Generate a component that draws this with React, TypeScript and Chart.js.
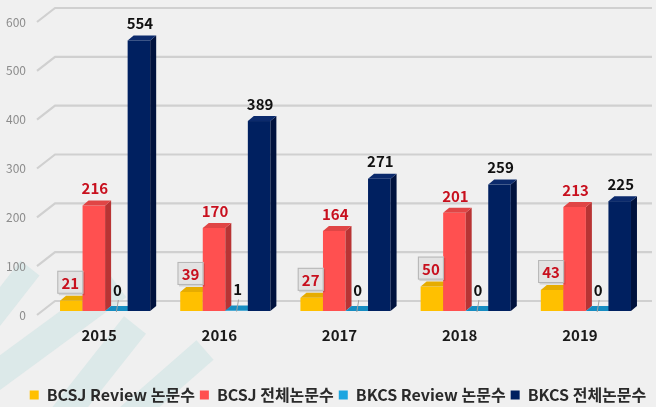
import React, { useEffect, useRef } from "react";
import { Chart, registerables } from "chart.js";

Chart.register(...registerables);

const years = ["2015", "2016", "2017", "2018", "2019"];
const bcsjReview = [21, 39, 27, 50, 43];
const bcsjTotal = [216, 170, 164, 201, 213];
const bkcsReview = [0, 1, 0, 0, 0];
const bkcsTotal = [554, 389, 271, 259, 225];
const seriesNames = ["BCSJ Review 논문수", "BCSJ 전체논문수", "BKCS Review 논문수", "BKCS 전체논문수"];
const yTickValues = [0, 100, 200, 300, 400, 500, 600];

const frontColors = ["#FFC000", "#FF5050", "#1CA5E0", "#002060"];
const topColors = ["#E6AC00", "#E04545", "#168DC2", "#0B2A6C"];
const sideColors = ["#C99700", "#B83434", "#0F76A6", "#00123D"];
const labelColors = ["#C8101E", "#C8101E", "#111111", "#111111"];

const FONT = "'Noto Sans CJK KR', 'Noto Sans', sans-serif";
const DX = 6;
const DY = -5;

const backgroundPlugin = {
  id: "bgStripes",
  beforeDraw(chart: any) {
    const ctx = chart.ctx;
    ctx.save();
    ctx.fillStyle = "#F0F0F0";
    ctx.fillRect(0, 0, chart.width, chart.height);
    ctx.strokeStyle = "rgba(200, 225, 225, 0.5)";
    ctx.lineCap = "butt";
    const stripes = [
      [-30, 345, 30, 268, 24],
      [-10, 380, 118, 286, 28],
      [60, 420, 135, 325, 28],
      [125, 420, 205, 350, 26],
    ];
    stripes.forEach(([x1, y1, x2, y2, w]) => {
      ctx.lineWidth = w;
      ctx.beginPath();
      ctx.moveTo(x1, y1);
      ctx.lineTo(x2, y2);
      ctx.stroke();
    });
    ctx.restore();
  },
};

function drawGrid(chart: any) {
  const ctx = chart.ctx;
  const yScale = chart.scales.y;
  const left = chart.chartArea.left;
  ctx.save();
  ctx.strokeStyle = "#D0D0D0";
  ctx.lineWidth = 2.2;
  ctx.lineJoin = "round";
  yTickValues.forEach((v) => {
    const y = yScale.getPixelForValue(v);
    ctx.beginPath();
    ctx.moveTo(left - 8, y + 4);
    ctx.lineTo(left + 10, y - 10);
    ctx.lineTo(chart.width - 4, y - 10);
    ctx.stroke();
  });
  ctx.restore();
}

function drawBars(chart: any) {
  const ctx = chart.ctx;
  ctx.save();
  const n = chart.data.labels.length;
  for (let j = 0; j < n; j++) {
    chart.data.datasets.forEach((_ds: any, i: number) => {
      const el = chart.getDatasetMeta(i).data[j];
      if (!el) return;
      const p = el.getProps(["x", "y", "base", "width"], true);
      const l = p.x - p.width / 2;
      const r = p.x + p.width / 2;
      const top = Math.min(p.y, p.base);
      const base = p.base;
      ctx.fillStyle = frontColors[i];
      ctx.fillRect(l, top, p.width, base - top);
      ctx.fillStyle = sideColors[i];
      ctx.beginPath();
      ctx.moveTo(r, top);
      ctx.lineTo(r + DX, top + DY);
      ctx.lineTo(r + DX, base + DY);
      ctx.lineTo(r, base);
      ctx.closePath();
      ctx.fill();
      ctx.fillStyle = topColors[i];
      ctx.beginPath();
      ctx.moveTo(l, top);
      ctx.lineTo(r, top);
      ctx.lineTo(r + DX, top + DY);
      ctx.lineTo(l + DX, top + DY);
      ctx.closePath();
      ctx.fill();
    });
  }
  ctx.restore();
}

function drawLabels(chart: any) {
  const ctx = chart.ctx;
  ctx.save();
  ctx.font = "bold 15px " + FONT;
  ctx.textAlign = "center";
  ctx.textBaseline = "middle";
  chart.data.datasets.forEach((ds: any, i: number) => {
    const meta = chart.getDatasetMeta(i);
    meta.data.forEach((el: any, j: number) => {
      const p = el.getProps(["x", "y"], true);
      const text = String(ds.data[j]);
      if (i === 0) {
        const bw = 26;
        const bh = 23;
        const bx = p.x - bw / 2 - 1;
        const by = p.y + DY - 2 - bh;
        ctx.fillStyle = "rgba(0,0,0,0.12)";
        ctx.fillRect(bx + 1.5, by + 1.5, bw, bh);
        ctx.fillStyle = "#E3E3E3";
        ctx.fillRect(bx, by, bw, bh);
        ctx.strokeStyle = "#B5B5B5";
        ctx.lineWidth = 1;
        ctx.strokeRect(bx + 0.5, by + 0.5, bw - 1, bh - 1);
        ctx.fillStyle = labelColors[i];
        ctx.fillText(text, bx + bw / 2, by + bh / 2 + 1);
      } else {
        if (i === 2) {
          ctx.strokeStyle = "#A0A0A0";
          ctx.lineWidth = 1;
          ctx.beginPath();
          ctx.moveTo(p.x + 2, p.y + DY - 6);
          ctx.lineTo(p.x, p.y + 1);
          ctx.stroke();
        }
        ctx.fillStyle = labelColors[i];
        const off = i === 2 ? 16 : 12;
        ctx.fillText(text, p.x + 1, p.y + DY - off);
      }
    });
  });
  ctx.restore();
}

const scenePlugin = {
  id: "scene3d",
  beforeDatasetsDraw(chart: any) {
    drawGrid(chart);
    drawBars(chart);
    drawLabels(chart);
    return false;
  },
};

export default function App() {
  const canvasRef = useRef<HTMLCanvasElement | null>(null);

  useEffect(() => {
    const canvas = canvasRef.current;
    if (!canvas) return;
    const series = [bcsjReview, bcsjTotal, bkcsReview, bkcsTotal];
    const chart = new Chart(canvas, {
      type: "bar",
      data: {
        labels: years,
        datasets: series.map((d, i) => ({
          label: seriesNames[i],
          data: d,
          backgroundColor: frontColors[i],
          borderWidth: 0,
          categoryPercentage: 0.75,
          barPercentage: 1,
        })),
      },
      options: {
        responsive: false,
        animation: false,
        devicePixelRatio: 1,
        layout: { padding: { top: 18, right: 0, bottom: -6, left: 20 } },
        plugins: {
          tooltip: { enabled: false },
          legend: {
            position: "bottom",
            labels: {
              boxWidth: 9,
              boxHeight: 9,
              padding: 5,
              color: "#2A2A2A",
              font: { family: FONT, size: 16, weight: "bold" },
            },
          },
        },
        scales: {
          x: {
            grid: { display: false, drawTicks: false },
            border: { display: false },
            ticks: {
              padding: 15,
              labelOffset: -6,
              color: "#1A1A1A",
              font: { family: FONT, size: 15, weight: "bold" },
            },
            afterFit: (s: any) => {
              s.height = 71;
              s.paddingTop = 0;
              s.paddingBottom = 0;
              s.paddingLeft = 0;
              s.paddingRight = 0;
            },
          },
          y: {
            min: 0,
            max: 600,
            grid: { display: false, drawTicks: false },
            border: { display: false },
            ticks: {
              stepSize: 100,
              mirror: true,
              crossAlign: "far",
              padding: -39,
              labelOffset: 4,
              color: "#8C8C8C",
              font: { family: FONT, size: 12 },
            },
            afterFit: (s: any) => {
              s.width = 25;
              s.paddingTop = 0;
              s.paddingBottom = 0;
            },
          },
          yRight: {
            position: "right",
            min: 0,
            max: 600,
            grid: { display: false, drawTicks: false },
            border: { display: false },
            ticks: { display: false },
            afterFit: (s: any) => {
              s.width = 10;
              s.paddingTop = 0;
              s.paddingBottom = 0;
            },
          },
        },
      },
      plugins: [backgroundPlugin, scenePlugin],
    } as any);
    return () => chart.destroy();
  }, []);

  return (
    <div style={{ position: "absolute", left: 0, top: 0, width: 656, height: 407, background: "#F0F0F0" }}>
      <canvas ref={canvasRef} width={656} height={407} style={{ display: "block" }} />
    </div>
  );
}
